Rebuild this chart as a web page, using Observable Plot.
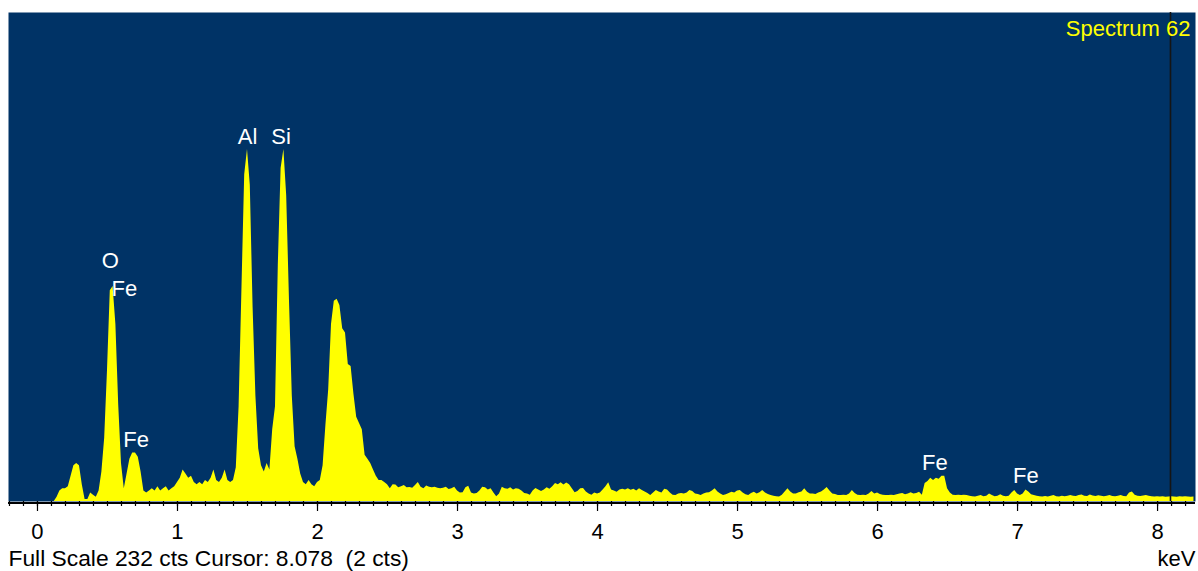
<!DOCTYPE html>
<html><head><meta charset="utf-8">
<script src="https://cdn.jsdelivr.net/npm/d3@7"></script>
<script src="https://cdn.jsdelivr.net/npm/@observablehq/plot@0.6"></script>
<style>
html,body{margin:0;padding:0;background:#fff;}
#chart svg{display:block;}
</style></head><body><div id="chart"></div>
<script>
// EDS spectrum: channel calibration (keV) and counts per channel
const startKeV = 0.0;
const stepKeV = 0.02;
const counts = [
  0,0,0,0,0,0,0,2,5,6,6,7,12,17,18,17,8,1,1,4,3,2,5,14,30,
  62,100,102,84,46,18,6,13,20,23,23,21,14,5,4,5,6,5,7,5,6,7,5,6,7,
  9,11,15,13,11,12,9,8,9,8,10,9,11,15,10,9,11,15,10,9,10,16,45,100,155,
  167,150,92,50,25,17,14,18,15,34,45,112,158,167,145,95,50,26,20,13,9,8,10,8,7,
  9,10,17,36,53,84,95,96,93,82,80,65,64,51,40,37,34,22,20,18,15,12,10,10,9,
  8,6,8,7.8,6.5,7,7.6,6.5,6.6,6.3,7.6,9,6.8,6,7.4,6.8,6.5,6.8,6.3,6,6.3,6.8,5.7,6,6.8,
  5,4,4.2,6.5,7.2,4,3.6,3.8,5,6.8,6.5,5.5,6,4,2.2,3.5,6.8,6,5.8,6.5,5.5,6,5.8,5,3.8,
  3.5,3,5,6.2,5.5,4.8,5.5,6.5,5.8,7,8.5,8,8.9,7.8,8.8,8,6,4.2,4.8,6,6.2,4.5,3.5,3,4,
  3.6,4,5.5,7,8.9,5.5,5,4.4,5.5,5.8,5.5,6,5.3,5.8,5,6,5.2,4.5,3.8,2.9,4,5.2,4.5,4,5.8,
  5.5,4,3,2.9,3.5,3.8,3.5,4,5.2,4.8,3.5,3.3,2.9,3.5,4,4.2,5,6,4.5,3.5,2.9,3.2,3.8,4.4,4,
  5,5.2,4,3.2,2.9,3.8,4.4,3.5,4.2,5.2,4,3.3,2.9,2.5,2.2,2.1,3,4.5,6,4.5,3.6,3.5,4.2,4.5,6,
  4.4,3.6,3.6,3.3,4,4.5,5.5,6.7,5,3.6,3.3,2.9,2.9,3,2.9,3.5,5.2,3.8,3,2.9,3,2.9,3.5,4.8,3.5,
  4,3.3,3,2.9,2.9,3,2.8,3.2,3.5,3.8,3.2,3.5,4.2,3.5,3.8,4.4,3,8.5,9.5,11,10,11,10.5,12,12,
  6,4,3,2.9,3,2.8,3,2.9,2.5,2.2,2.1,2.5,2.9,2.3,2.5,3.5,2.8,2.2,2.5,3.2,2.5,2.2,2.5,4,5.2,
  3.5,2.9,3.5,5.5,4.5,3.2,2.9,2.5,2.2,2.1,2.4,2.1,2.5,2.9,2.3,2.1,2.5,2.2,2.5,2.9,2.5,2.4,2.9,3.1,2.5,
  2.4,3.1,2.6,2.4,2.7,2.5,2.2,2.5,2.8,2.4,2.2,2.5,2.9,2.4,2.2,4,4.5,3,2.5,2.4,2.6,2.9,2.5,2.2,2.1,
  2.2,2.1,2.2,2,2.1,2.2,2.1,2,2.2,2.1,2.2,2.1,2,2.1
];

// Peak labels (anchor in keV / counts)
const labelText   = ["O", "Fe", "Fe", "Al", "Si", "Fe", "Fe"];
const labelKeV    = [0.52, 0.62, 0.705, 1.50, 1.74, 6.41, 7.06];
const labelCounts = [114, 101, 29.4, 173, 173, 18.5, 12.3];

// Axis / annotation values
const majorTicks = [0, 1, 2, 3, 4, 5, 6, 7, 8];
const minorTicks = [-0.2,-0.1,0,0.1,0.2,0.3,0.4,0.5,0.6,0.7,0.8,0.9,1,1.1,1.2,1.3,1.4,1.5,1.6,1.7,1.8,1.9,2,2.1,2.2,2.3,2.4,2.5,2.6,2.7,2.8,2.9,3,3.1,3.2,3.3,3.4,3.5,3.6,3.7,3.8,3.9,4,4.1,4.2,4.3,4.4,4.5,4.6,4.7,4.8,4.9,5,5.1,5.2,5.3,5.4,5.5,5.6,5.7,5.8,5.9,6,6.1,6.2,6.3,6.4,6.5,6.6,6.7,6.8,6.9,7,7.1,7.2,7.3,7.4,7.5,7.6,7.7,7.8,7.9,8,8.1,8.2];
const fullScale = 232;
const cursorKeV = 8.078;
const cursorCounts = 2;
const spectrumTitle = "Spectrum 62";
const unitLabel = "keV";

const spectrum = counts.map((c, i) => ({energy: startKeV + i * stepKeV, cts: c}));
const labels = labelText.map((t, i) => ({text: t, energy: labelKeV[i], cts: labelCounts[i]}));
const footer = `Full Scale ${fullScale} cts Cursor: ${cursorKeV.toFixed(3)}\u00a0 (${cursorCounts} cts)`;

const chart = Plot.plot({
  width: 1198,
  height: 571,
  marginTop: 12,
  marginBottom: 70,
  marginLeft: 8,
  marginRight: 3,
  x: {domain: [-0.207, 8.271], axis: null, label: null},
  y: {domain: [0, fullScale], axis: null, label: null},
  style: {fontFamily: "'Liberation Sans', Arial, sans-serif", fontSize: "22px", background: "#ffffff", color: "#000"},
  marks: [
    Plot.frame({fill: "#003366", stroke: null}),
    Plot.areaY(spectrum, {x: "energy", y: "cts", fill: "#ffff00", curve: "linear"}),
    Plot.ruleX([cursorKeV], {stroke: "#151515", strokeWidth: 1.6, dx: 2}),
    Plot.ruleY([0], {stroke: "#000", strokeWidth: 2, dy: 1.5}),
    Plot.axisX({ticks: minorTicks, tickSize: 5, tickFormat: () => "", label: null, stroke: "#000", strokeWidth: 1.2}),
    Plot.axisX({ticks: majorTicks, tickSize: 10, tickPadding: 12, tickFormat: d => String(d), label: null, stroke: "#000", strokeWidth: 1.2, fill: "#000", fontSize: 22}),
    Plot.text(labels, {x: "energy", y: "cts", text: "text", fill: "#ffffff", fontSize: 22, lineAnchor: "middle"}),
    Plot.text([spectrumTitle], {frameAnchor: "top-right", textAnchor: "end", lineAnchor: "middle", dx: -5, dy: 16, fill: "#ffff00", fontSize: 22}),
    Plot.text([footer], {frameAnchor: "bottom-left", textAnchor: "start", lineAnchor: "middle", dy: 57, fill: "#000", fontSize: 22.8}),
    Plot.text([unitLabel], {frameAnchor: "bottom-right", textAnchor: "end", lineAnchor: "middle", dy: 57, fill: "#000", fontSize: 22})
  ]
});
document.getElementById("chart").appendChild(chart);
</script>
</body></html>
